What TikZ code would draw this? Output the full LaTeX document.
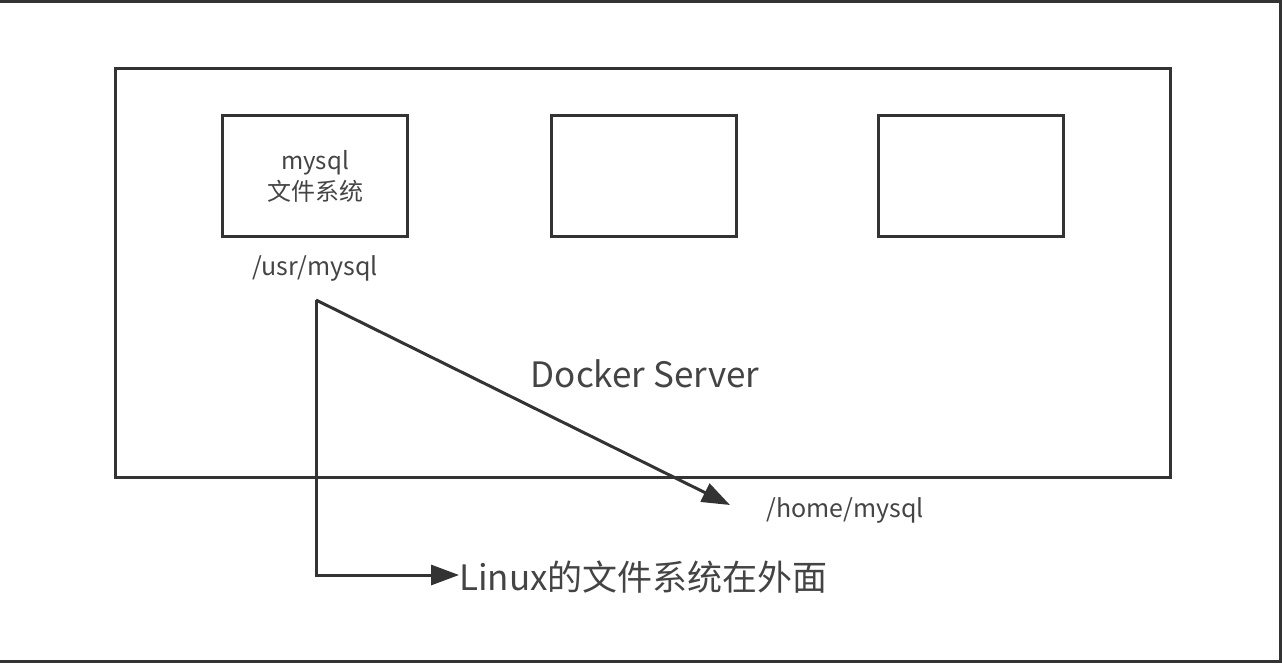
\documentclass[tikz,border=0pt]{standalone}
\usepackage{fontspec}
\setmainfont{Noto Sans CJK SC}
\usetikzlibrary{arrows.meta}
\definecolor{ink}{HTML}{333333}
\definecolor{txt}{HTML}{444444}
\begin{document}
\begin{tikzpicture}[x=1pt,y=-1pt,
  frame/.style={draw=ink,line width=3pt},
  box/.style={draw=ink,line width=3pt,minimum width=185pt,minimum height=121pt,inner sep=0pt,align=center},
  conn/.style={draw=ink,line width=3pt,-{Triangle[length=28pt,width=20pt]}},
  lbl/.style={text=txt,inner sep=0pt}]
\useasboundingbox (0,0) rectangle (1282,665);
\draw[draw=ink,line width=3pt] (0,1.5) -- (1280.5,1.5) -- (1280.5,661.5) -- (0,661.5);
\node[frame,minimum width=1055pt,minimum height=409pt,inner sep=0pt] (server) at (642.5,272.5) {};
\node[box,font=\fontsize{24pt}{31pt}\selectfont,text=txt] (b1) at (315,176) {mysql\\文件系统};
\node[box] (b2) at (643.5,176) {};
\node[box] (b3) at (971,176) {};
\node[lbl,font=\fontsize{25pt}{30pt}\selectfont] (usr) at (315,268) {/usr/mysql};
\node[lbl,font=\fontsize{35pt}{40pt}\selectfont] (docker) at (645,374) {Docker Server};
\node[lbl,font=\fontsize{25pt}{30pt}\selectfont,anchor=west] (home) at (766,510) {/home/mysql};
\node[lbl,font=\fontsize{35pt}{40pt}\selectfont,anchor=west] (linux) at (459,577) {Linux的文件系统在外面};
\coordinate (src) at (316,300);
\coordinate (corner) at (316,575);
\coordinate (tipA) at (730,505);
\draw[conn] (src) -- (tipA);
\draw[conn] (src) -- (corner) -- (corner -| linux.west);
\end{tikzpicture}
\end{document}
